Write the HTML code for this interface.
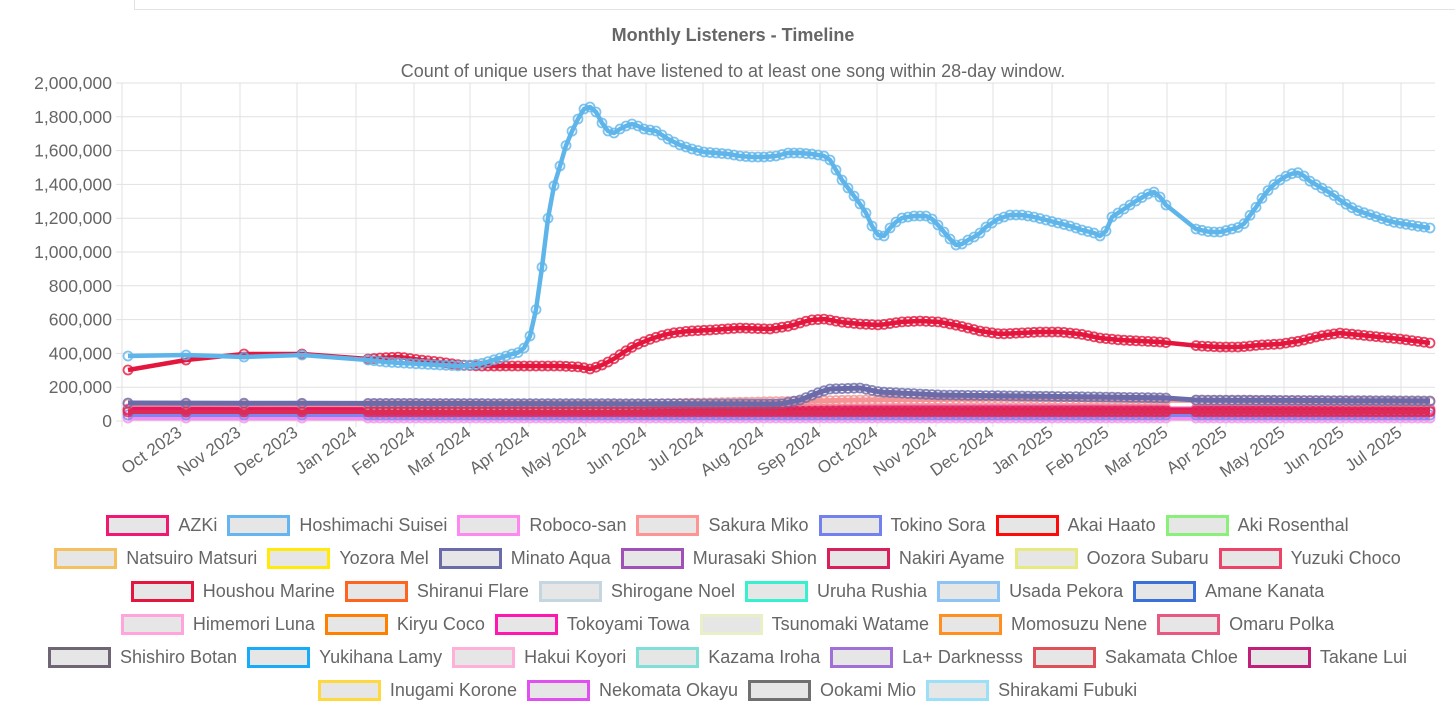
<!DOCTYPE html>
<html><head><meta charset="utf-8"><style>
body{margin:0;width:1455px;height:688px;overflow:hidden;background:#fff;font-family:"Liberation Sans",sans-serif;}
#top{position:absolute;left:134px;top:-2px;width:1330px;height:11px;border:1px solid #e3e3e3;border-top:none}
.leg{position:absolute;left:0;width:1455px;display:flex;justify-content:center;gap:0;font-size:18px;color:#666;white-space:nowrap}
.it{display:flex;align-items:center;margin:0 5px}
.bx{width:57px;height:15px;border:3px solid;background:#e6e6e6;margin-right:9px}
</style></head><body>
<div id="top"></div>
<svg id="s" width="1455" height="688" style="position:absolute;left:0;top:0" font-family="Liberation Sans, sans-serif"></svg>
<div id="lg"></div>
<script>
const s=document.getElementById('s');let h='';
h+='<text x="733" y="41" text-anchor="middle" font-size="18" font-weight="bold" fill="#666">Monthly Listeners - Timeline</text>';
h+='<text x="733" y="77" text-anchor="middle" font-size="18" fill="#666">Count of unique users that have listened to at least one song within 28-day window.</text>';
for(let i=0;i<=10;i++){const y=83+i*33.8;h+=`<line x1="116" x2="1435" y1="${y}" y2="${y}" stroke="#e1e1e1"/>`;
h+=`<text x="112" y="${y+6}" text-anchor="end" font-size="17.5" fill="#666">${(2000000-i*200000).toLocaleString('en-US')}</text>`;}
const tx=[181,240,297,356,414,470,529,586,646,703,763,820,877,936,993,1052,1108,1167,1226,1284,1343,1401];
const tl=['Oct 2023','Nov 2023','Dec 2023','Jan 2024','Feb 2024','Mar 2024','Apr 2024','May 2024','Jun 2024','Jul 2024','Aug 2024','Sep 2024','Oct 2024','Nov 2024','Dec 2024','Jan 2025','Feb 2025','Mar 2025','Apr 2025','May 2025','Jun 2025','Jul 2025'];
h+=`<line x1="122" x2="122" y1="83" y2="427" stroke="#e1e1e1"/>`;
tx.forEach((x,i)=>{h+=`<line x1="${x}" x2="${x}" y1="83" y2="427" stroke="#e1e1e1"/>`;
h+=`<text transform="translate(${x+2},435) rotate(-35)" text-anchor="end" font-size="17" fill="#666">${tl[i]}</text>`;});
function interp(k,x){for(let i=0;i<k.length-1;i++){if(x>=k[i][0]&&x<=k[i+1][0]){const t=(x-k[i][0])/(k[i+1][0]-k[i][0]);return k[i][1]+t*(k[i+1][1]-k[i][1]);}}return k[k.length-1][1];}
function xs(){const a=[128,186,244,302];for(let x=368;x<=1430;x+=6){if(x>1168&&x<1196)continue;a.push(x);}return a;}
function series(k,col,w){const X=xs();let d='M'+X.map(x=>x+','+interp(k,x).toFixed(1)).join(' L');
let r=`<path d="${d}" fill="none" stroke="${col}" stroke-width="${w}" stroke-linejoin="round"/>`;
X.forEach(x=>{r+=`<circle cx="${x}" cy="${interp(k,x).toFixed(1)}" r="4.5" fill="none" stroke="${col}" stroke-opacity="0.8" stroke-width="1.8"/>`});return r;}
const flat=(y)=>[[128,y],[1430,y]];
h+=series(flat(418),'#f78cf0',5);
h+=series(flat(415),'#7b86f0',4);
h+=series([[128,409],[840,409],[1430,409]],'#e8589a',5);
h+=series([[128,410],[1430,411]],'#e6175f',6);
h+=series([[128,404],[600,405],[860,400],[1000,399],[1430,402]],'#f59494',5);
h+=series([[128,403],[780,404],[800,400],[820,392],[830,389],[860,388],[880,392],[940,395],[1100,397],[1166,398],[1196,400],[1430,401]],'#6b6ba9',5);
h+=series([[128,412],[1430,412]],'#dc2c54',4);
const marine=[[128,370],[186,360],[244,354],[302,354],[368,359],[380,358],[400,357],[420,360],[440,362],[460,365],[480,366],[500,366],[530,366],[560,366],[580,367],[590,369],[600,366],[612,360],[624,352],[636,345],[648,340],[660,336],[672,333],[690,331],[710,330],[740,328],[770,329],[790,326],[810,320],[825,319],[840,322],[860,324],[880,325],[900,322],[920,321],[940,322],[960,326],[980,331],[1000,334],[1020,333],[1040,332],[1060,332],[1080,334],[1100,338],[1120,340],[1140,341],[1160,342],[1180,344],[1200,346],[1220,347],[1240,347],[1260,345],[1280,344],[1300,341],[1320,336],[1340,333],[1360,335],[1380,337],[1400,339],[1430,343]];
const sui=[[128,356],[186,355],[244,357],[302,355],[368,360],[385,362],[420,364],[460,366],[480,364],[500,358],[515,353],[522,352],[528,340],[533,330],[538,296],[543,260],[549,210],[555,181],[561,163],[567,142],[573,129],[578,119],[584,109],[590,107],[596,112],[602,123],[608,131],[614,133],[620,129],[626,126],[632,124],[638,126],[644,129],[656,131],[668,139],[680,145],[692,149],[704,152],[716,153],[728,154],[740,156],[752,157],[764,157],[776,156],[788,153],[800,153],[812,154],[824,156],[830,160],[836,170],[842,180],[848,188],[854,196],[860,204],[866,213],[872,226],[878,235],[884,236],[890,228],[896,222],[902,218],[914,216],[926,216],[932,219],[938,225],[944,232],[950,239],[956,245],[962,244],[968,240],[974,237],[980,233],[986,227],[998,219],[1010,215],[1022,215],[1034,217],[1046,220],[1058,223],[1070,226],[1082,230],[1094,233],[1100,236],[1106,231],[1112,217],[1124,209],[1136,201],[1148,194],[1154,192],[1160,197],[1166,205],[1196,229],[1210,232],[1220,232],[1232,229],[1240,227],[1246,222],[1252,212],[1258,205],[1264,195],[1272,186],[1284,177],[1296,172],[1302,174],[1308,180],[1320,187],[1332,194],[1344,203],[1356,210],[1368,214],[1380,218],[1392,222],[1404,224],[1416,226],[1430,228]];
h+=series(marine,'#e3173e',4.5);
h+=series(sui,'#5fb5ea',4.5);
s.innerHTML=h;
const rows=[
[['AZKi','#f01873'],['Hoshimachi Suisei','#64b5f0'],['Roboco-san','#ff88f0'],['Sakura Miko','#ff9494'],['Tokino Sora','#7380f0'],['Akai Haato','#ff0a0a'],['Aki Rosenthal','#8af07a']],
[['Natsuiro Matsuri','#f5c060'],['Yozora Mel','#ffea0a'],['Minato Aqua','#6b6ba9'],['Murasaki Shion','#a050b8'],['Nakiri Ayame','#d9205a'],['Oozora Subaru','#e6ea80'],['Yuzuki Choco','#ef4268']],
[['Houshou Marine','#e3173e'],['Shiranui Flare','#ff6320'],['Shirogane Noel','#c4d6e0'],['Uruha Rushia','#38f0d0'],['Usada Pekora','#8ec4f5'],['Amane Kanata','#3a70d8']],
[['Himemori Luna','#ffa4dc'],['Kiryu Coco','#ff8000'],['Tokoyami Towa','#ff18b0'],['Tsunomaki Watame','#e8f0c8'],['Momosuzu Nene','#ff9020'],['Omaru Polka','#e85880']],
[['Shishiro Botan','#6e6674'],['Yukihana Lamy','#18acf8'],['Hakui Koyori','#ffb0d8'],['Kazama Iroha','#80e0d8'],['La+ Darknesss','#a070d8'],['Sakamata Chloe','#e05058'],['Takane Lui','#c0207a']],
[['Inugami Korone','#ffd840'],['Nekomata Okayu','#e050f0'],['Ookami Mio','#707070'],['Shirakami Fubuki','#9ce0f8']]];
let l='';rows.forEach((r,i)=>{l+=`<div class="leg" style="top:${515+i*33}px">`+r.map(([n,c])=>`<div class="it"><div class="bx" style="border-color:${c}"></div>${n}</div>`).join('')+'</div>';});
document.getElementById('lg').innerHTML=l;
</script></body></html>
